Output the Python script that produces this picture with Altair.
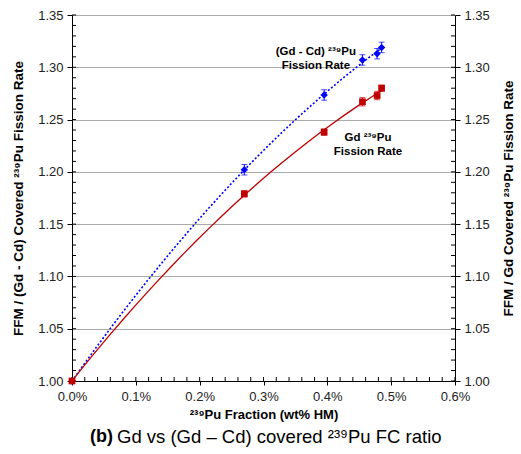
import altair as alt
import pandas as pd

# ---- data ----
x_pct = [0.0, 0.27, 0.395, 0.455, 0.478, 0.485]
gdcd_ratio = [1.000, 1.202, 1.2735, 1.307, 1.313, 1.319]
gdcd_err = [0.0, 0.005, 0.005, 0.005, 0.005, 0.005]
gd_ratio = [1.000, 1.179, 1.238, 1.267, 1.273, 1.280]
gd_err = [0.0, 0.003, 0.003, 0.004, 0.004, 0.003]

series_names = ["(Gd - Cd)", "Gd"]
series_colors = ["#0000FF", "#C00000"]

x_ticks = [0.0, 0.1, 0.2, 0.3, 0.4, 0.5, 0.6]
y_ticks = [1.00, 1.05, 1.10, 1.15, 1.20, 1.25, 1.30, 1.35]
y_minor = [round(1.0 + i * 0.01, 2) for i in range(36)]
x_minor = [round(i * 0.02, 2) for i in range(31)]

ann_text = [["(Gd - Cd) ²³⁹Pu", "Fission Rate"], ["Gd ²³⁹Pu", "Fission Rate"]]
ann_x = [0.382, 0.4637]
ann_y = [1.3146, 1.2324]

FONT = "Liberation Sans"
W, H = 383, 366

rows = []
for s, ys_, es_ in [(series_names[0], gdcd_ratio, gdcd_err), (series_names[1], gd_ratio, gd_err)]:
    for xv, yv, ev in zip(x_pct, ys_, es_):
        rows.append({"series": s, "x": xv, "y": yv, "lo": yv - ev, "hi": yv + ev})
df = pd.DataFrame(rows)
ann = pd.DataFrame({"series": series_names, "x": ann_x, "y": ann_y, "t": ann_text})

xs = alt.Scale(domain=[0, 0.6], nice=False, zero=False)
ysc = alt.Scale(domain=[1.0, 1.35], nice=False, zero=False)
color = alt.Color("series:N", scale=alt.Scale(domain=series_names, range=series_colors), legend=None)

X0 = alt.X("x:Q", scale=xs, axis=None)

base = alt.Chart(df)

# axes carriers
left_axis = alt.Chart(pd.DataFrame({"x": [0.0], "y": [1.0]})).mark_point(opacity=0).encode(
    x=alt.X("x:Q", scale=xs, axis=alt.Axis(
        values=x_ticks, labelExpr="format(datum.value, '.1f') + '%'",
        title="²³⁹Pu Fraction (wt% HM)", titleFont=FONT, titleFontWeight="bold",
        titleFontSize=13, titleColor="black", titleX=W / 2, titleY=33,
        titleBaseline="middle", labelFont=FONT, labelFontSize=13, labelColor="#222",
        labelPadding=5, tickSize=4, tickColor="black", domainColor="black",
        grid=False, labelFlush=False)),
    y=alt.Y("y:Q", scale=ysc, axis=alt.Axis(
        orient="left", values=y_ticks, format=".2f",
        title="FFM / (Gd - Cd) Covered ²³⁹Pu Fission Rate", titleFont=FONT,
        titleFontWeight="bold", titleFontSize=13.5, titleColor="black",
        titleX=-54, titleY=H / 2, titleAngle=-90, titleBaseline="middle", titleAlign="center",
        labelFont=FONT, labelFontSize=13, labelColor="#222", labelPadding=4,
        tickSize=5, tickColor="black", domainColor="black",
        grid=True, gridColor="#AAAAAA", gridWidth=1, labelFlush=False)),
)
right_axis = alt.Chart(pd.DataFrame({"x": [0.0], "y": [1.0]})).mark_point(opacity=0).encode(
    x=X0,
    y=alt.Y("y:Q", scale=ysc, axis=alt.Axis(
        orient="right", values=y_ticks, format=".2f",
        title="FFM / Gd Covered ²³⁹Pu Fission Rate", titleFont=FONT,
        titleFontWeight="bold", titleFontSize=13.5, titleColor="black",
        titleX=53, titleY=H / 2, titleAngle=-90, titleBaseline="middle", titleAlign="center",
        labelFont=FONT, labelFontSize=13, labelColor="#222", labelPadding=4,
        tickSize=5, tickColor="black", domainColor="black", grid=False, labelFlush=False)),
)

Ynone = alt.Y("v:Q", scale=ysc, axis=None)
ymin_df = pd.DataFrame({"v": y_minor})
xmin_df = pd.DataFrame({"v": x_minor})
minor_left = alt.Chart(ymin_df).mark_rule(color="black").encode(
    y=Ynone, x=alt.value(0), x2=alt.value(4))
minor_right = alt.Chart(ymin_df).mark_rule(color="black").encode(
    y=Ynone, x=alt.value(W - 4), x2=alt.value(W))
minor_bottom = alt.Chart(xmin_df).mark_rule(color="black").encode(
    x=alt.X("v:Q", scale=xs, axis=None), y=alt.value(H - 4), y2=alt.value(H))

Y0 = alt.Y("y:Q", scale=ysc, axis=None)

fit_blue = base.transform_filter(alt.datum.series == series_names[0]).transform_regression(
    "x", "y", method="poly", order=2, groupby=["series"]
).mark_line(strokeDash=[2, 2], strokeWidth=1.6).encode(x=X0, y=Y0, color=color)
fit_red = base.transform_filter(alt.datum.series == series_names[1]).transform_regression(
    "x", "y", method="poly", order=2, groupby=["series"]
).mark_line(strokeWidth=1.3).encode(x=X0, y=Y0, color=color)

err = base.mark_rule(strokeWidth=1).encode(
    x=X0, y=alt.Y("lo:Q", scale=ysc, axis=None), y2="hi:Q", color=color)
cap_lo = base.mark_tick(orient="horizontal", size=6, thickness=1).encode(
    x=X0, y=alt.Y("lo:Q", scale=ysc, axis=None), color=color)
cap_hi = base.mark_tick(orient="horizontal", size=6, thickness=1).encode(
    x=X0, y=alt.Y("hi:Q", scale=ysc, axis=None), color=color)

pts_blue = base.transform_filter(alt.datum.series == series_names[0]).mark_point(
    shape="diamond", filled=True, size=55, opacity=1).encode(x=X0, y=Y0, color=color)
pts_red = base.transform_filter(alt.datum.series == series_names[1]).mark_point(
    shape="square", filled=True, size=45, opacity=1).encode(x=X0, y=Y0, color=color)

labels = alt.Chart(ann).mark_text(
    font=FONT, fontSize=11.5, fontWeight="bold", color="black", align="center",
    baseline="middle", lineHeight=14).encode(x=X0, y=Y0, text="t")

cap_b = alt.Chart(pd.DataFrame({"t": ["(b)"]})).mark_text(
    font=FONT, fontSize=18, fontWeight="bold", color="black", align="left", baseline="middle"
).encode(text="t:N", x=alt.value(18), y=alt.value(422))
cap_rest = alt.Chart(pd.DataFrame({"t": ["Gd vs (Gd – Cd) covered ²³⁹Pu FC ratio"]})).mark_text(
    font=FONT, fontSize=18.5, color="black", align="left", baseline="middle"
).encode(text="t:N", x=alt.value(45), y=alt.value(422))

chart = alt.layer(
    left_axis, right_axis, minor_left, minor_right, minor_bottom,
    fit_blue, fit_red, err, cap_lo, cap_hi, pts_blue, pts_red, labels, cap_b, cap_rest
).resolve_axis(x="independent", y="independent").properties(
    width=W, height=H,
    autosize=alt.AutoSizeParams(type="none"),
    padding={"left": 72, "top": 15, "right": 66, "bottom": 73},
    background="white",
).configure_view(stroke=None)

chart.save("out.html", embed_options={"renderer": "svg", "actions": False})
